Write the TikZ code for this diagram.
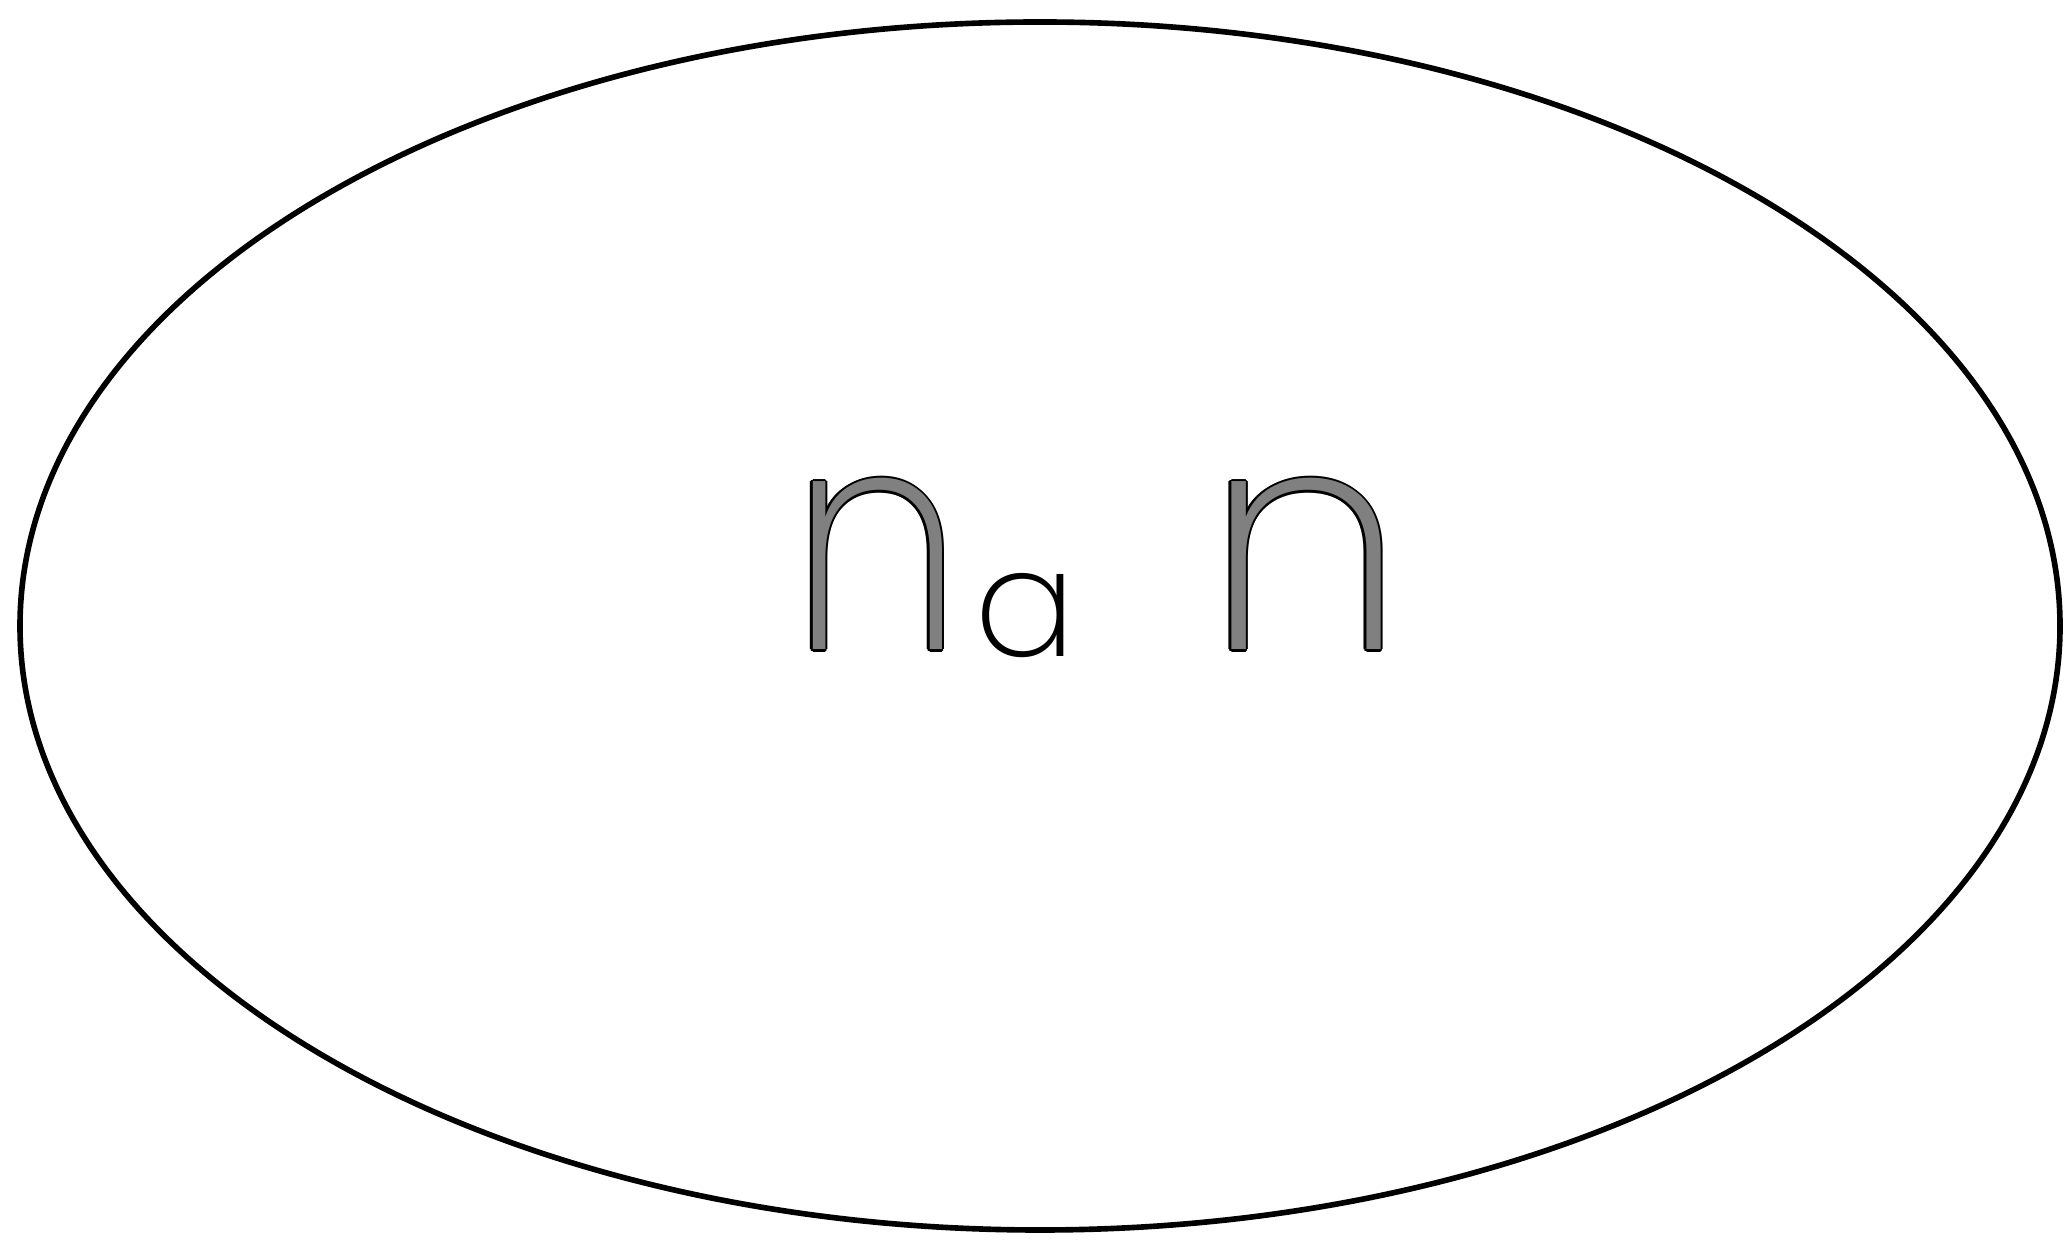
\documentclass[tikz,border=0pt]{standalone}
\usepackage{fontspec}
\setmainfont{Poppins}
\newfontfamily\popthin{Poppins ExtraLight}
\usepackage[copies]{contour}
\contourlength{0.6pt}
\begin{document}
\begin{tikzpicture}[x=1cm, y=1cm, line width=1.6pt,
    every node/.style={inner sep=0pt, outer sep=0pt},
    bigletter/.style={anchor=base west, font=\popthin\fontsize{88}{88}\selectfont},
    subletter/.style={anchor=base west, font=\popthin\fontsize{43}{43}\selectfont}]
  \useasboundingbox (0,0) rectangle (20.64,12.47);
  % outer ellipse
  \draw (10.40,6.21) ellipse [x radius=10.20, y radius=6.04];
  % label n_a n
  \node[bigletter] (nfirst) at (7.90,5.97) {\contour{black}{\textcolor{gray}{\scalebox{0.9}[1]{n}}}};
  \node[subletter] (asub) at (9.74,5.90) {a};
  \node[bigletter] (nsecond) at (12.05,5.97) {\contour{black}{\textcolor{gray}{\scalebox{1.04}[1]{n}}}};
\end{tikzpicture}
\end{document}
